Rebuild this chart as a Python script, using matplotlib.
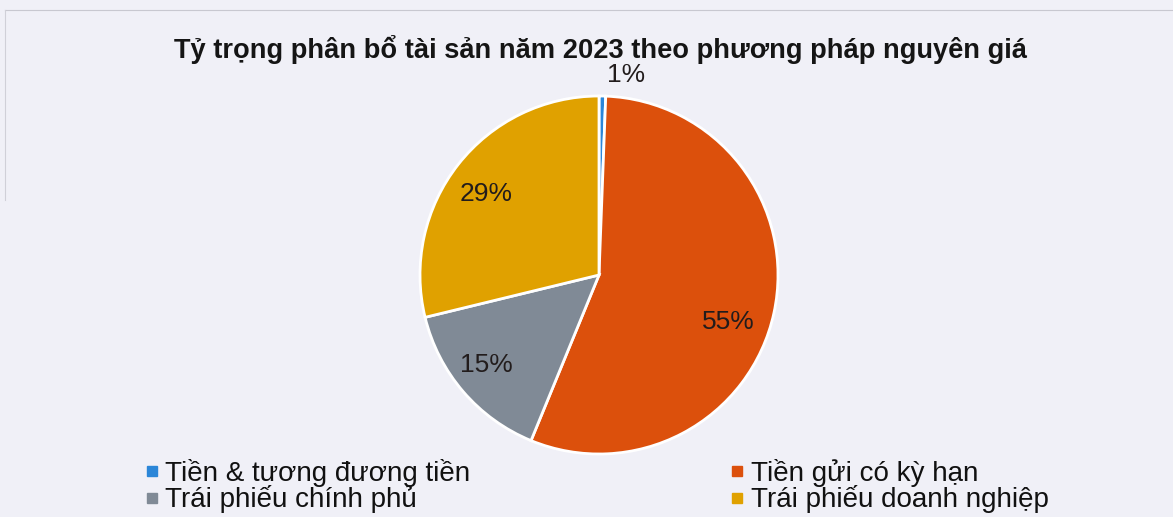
import matplotlib
matplotlib.use("Agg")
import matplotlib.pyplot as plt
from matplotlib.lines import Line2D

plt.rcParams['font.family'] = ['Liberation Sans', 'DejaVu Sans']

title = "Tỷ trọng phân bổ tài sản năm 2023 theo phương pháp nguyên giá"
categories = ["Tiền & tương đương tiền", "Tiền gửi có kỳ hạn",
              "Trái phiếu chính phủ", "Trái phiếu doanh nghiệp"]
values = [0.6, 55.6, 15.0, 28.8]
labels = ["1%", "55%", "15%", "29%"]
colors = ["#2b86d8", "#dc500c", "#808a96", "#e0a100"]

bg = "#f0f0f7"
W, H = 1173, 517
fig = plt.figure(figsize=(W / 100, H / 100), dpi=100, facecolor=bg)

cx, cy, r = 599, 275, 179
ax = fig.add_axes([(cx - r) / W, (H - cy - r) / H, 2 * r / W, 2 * r / H])
ax.set_facecolor(bg)
wedges, _ = ax.pie(values, colors=colors, startangle=90, counterclock=False,
                   wedgeprops=dict(edgecolor="white", linewidth=2))
ax.set_xlim(-1, 1)
ax.set_ylim(-1, 1)
ax.set_aspect("auto")

# label anchor positions (in pie radius units)
label_pos = [(0.15, 1.115), (0.72, -0.26), (-0.63, -0.50), (-0.63, 0.45)]
for (x, y), lab in zip(label_pos, labels):
    ax.text(x, y, lab, ha="center", va="center", fontsize=19, color="#221c1c")

fig.text(600 / W, 1 - 49 / H, title, ha="center", va="center",
         fontsize=19.6, fontweight="bold", color="#151515")

handles = [Line2D([], [], marker="s", linestyle="none", markersize=6.5,
                  markerfacecolor=colors[k], markeredgecolor=colors[k])
           for k in [0, 2, 1, 3]]
leg_labels = [categories[k] for k in [0, 2, 1, 3]]
leg = fig.legend(handles, leg_labels, ncol=2, loc="center left",
                 bbox_to_anchor=(146 / W, 1 - 486 / H), frameon=False,
                 fontsize=20, handlelength=0.4, handletextpad=0.3,
                 columnspacing=9.4, labelspacing=-0.05, borderaxespad=0,
                 borderpad=0)
for t in leg.get_texts():
    t.set_color("#111111")

# faint scan frame
fig.add_artist(Line2D([5 / W, 1], [1 - 10 / H, 1 - 10 / H], color="#c8c8d0", lw=0.8))
fig.add_artist(Line2D([5 / W, 5 / W], [1 - 10 / H, 1 - 200 / H], color="#d0d0d8", lw=0.8))

fig.savefig("out.png", dpi=100, facecolor=bg)
